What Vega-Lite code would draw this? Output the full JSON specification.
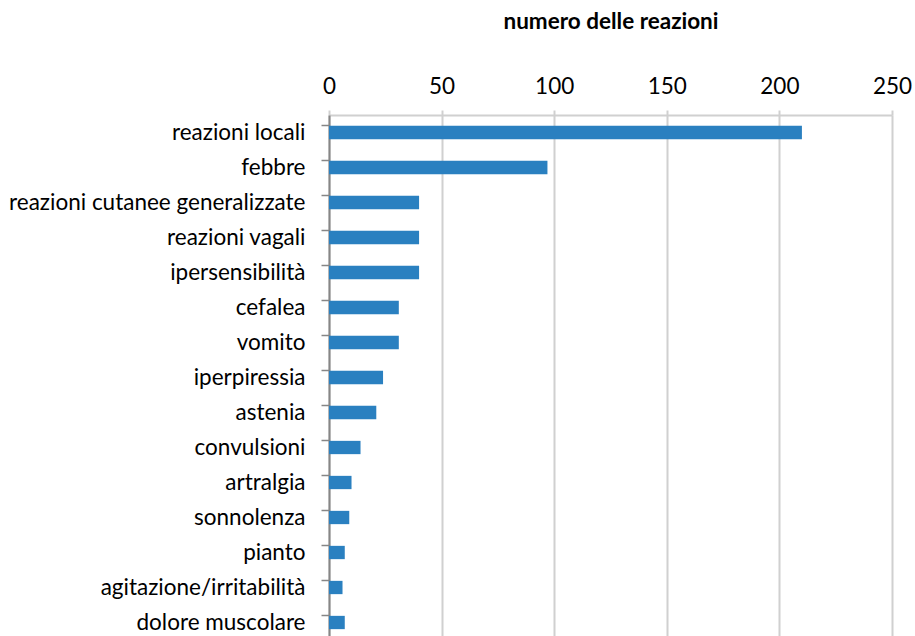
{
  "$schema": "https://vega.github.io/schema/vega-lite/v6.json",
  "autosize": "none",
  "width": 563,
  "height": 525,
  "padding": {"left": 329, "top": 115, "right": 23, "bottom": 0},
  "background": "white",
  "config": {
    "view": {"stroke": null},
    "font": "Lato"
  },
  "data": {
    "values": [
      {"reazione": "reazioni locali", "n": 210},
      {"reazione": "febbre\u2005", "n": 97},
      {"reazione": "reazioni cutanee generalizzate", "n": 40},
      {"reazione": "reazioni vagali", "n": 40},
      {"reazione": "ipersensibilità", "n": 40},
      {"reazione": "cefalea", "n": 31},
      {"reazione": "vomito", "n": 31},
      {"reazione": "iperpiressia", "n": 24},
      {"reazione": "astenia", "n": 21},
      {"reazione": "convulsioni", "n": 14},
      {"reazione": "artralgia", "n": 10},
      {"reazione": "sonnolenza", "n": 9},
      {"reazione": "pianto", "n": 7},
      {"reazione": "agitazione/irritabilità", "n": 6},
      {"reazione": "dolore muscolare", "n": 7}
    ]
  },
  "mark": {"type": "bar", "color": "#2a80c0"},
  "encoding": {
    "y": {
      "field": "reazione",
      "type": "nominal",
      "sort": null,
      "scale": {"paddingInner": 0.62, "paddingOuter": 0.31},
      "axis": {
        "title": null,
        "bandPosition": 0,
        "labelFont": "Lato",
        "labelFontSize": 22.5,
        "labelColor": "#000000",
        "labelPadding": 16,
        "labelLimit": 400,
        "tickSize": 8,
        "tickColor": "#868686",
        "tickWidth": 1.5,
        "domainColor": "#868686",
        "domainWidth": 2,
        "grid": false
      }
    },
    "x": {
      "field": "n",
      "type": "quantitative",
      "scale": {"domain": [0, 250], "nice": false},
      "axis": {
        "orient": "top",
        "title": "numero delle reazioni",
        "titleFont": "Lato",
        "titleFontSize": 22.5,
        "titleFontWeight": "bold",
        "titleColor": "#000000",
        "titlePadding": 42,
        "values": [0, 50, 100, 150, 200, 250],
        "labelFont": "Lato",
        "labelFontSize": 22.5,
        "labelColor": "#000000",
        "labelPadding": 12,
        "labelFlush": false,
        "tickSize": 5,
        "tickColor": "#d0d0d0",
        "tickWidth": 2,
        "domainColor": "#d0d0d0",
        "domainWidth": 2,
        "grid": true,
        "gridColor": "#d0d0d0",
        "gridWidth": 2
      }
    }
  }
}
